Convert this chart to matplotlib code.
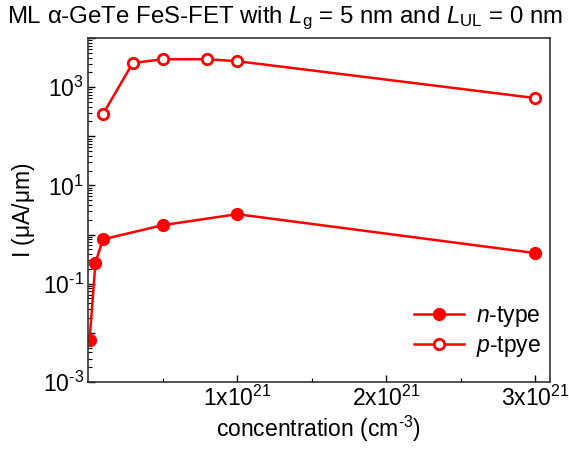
import numpy as np
import matplotlib
matplotlib.use("Agg")
import matplotlib.pyplot as plt
from matplotlib.ticker import LogLocator, FixedLocator, NullFormatter, FuncFormatter

# Dados
conc_n = [0.01e21, 0.05e21, 0.1e21, 0.5e21, 1.0e21, 3.0e21]
corr_n = [0.007, 0.27, 0.8, 1.55, 2.6, 0.42]

conc_p = [0.1e21, 0.3e21, 0.5e21, 0.8e21, 1.0e21, 3.0e21]
corr_p = [282, 3090, 3700, 3700, 3380, 600]

xticks = [1e21, 2e21, 3e21]
xtick_labels = [r'1x10$^{21}$', r'2x10$^{21}$', r'3x10$^{21}$']

plt.rcParams['font.family'] = 'Liberation Sans'
plt.rcParams['mathtext.fontset'] = 'custom'
plt.rcParams['mathtext.rm'] = 'Liberation Sans'
plt.rcParams['mathtext.it'] = 'Liberation Sans:italic'
plt.rcParams['mathtext.default'] = 'regular'

fs = 16.5

fig = plt.figure(figsize=(5.69, 4.58), dpi=100)
ax = fig.add_axes([0.1547, 0.166, 0.9666 - 0.1547, 0.917 - 0.166])

vermelho = '#ff0000'
ax.plot(conc_n, corr_n, '-o', color=vermelho, lw=1.8, ms=8.5,
        label=r'$\mathit{n}$-type')
ax.plot(conc_p, corr_p, '-o', color=vermelho, lw=1.8, ms=7.5,
        mfc='white', mew=2, label=r'$\mathit{p}$-tpye')

ax.set_yscale('log')
ax.set_xlim(0, 3.1e21)
ax.set_ylim(1e-3, 1e4)

ax.xaxis.set_major_locator(FixedLocator(xticks))
ax.set_xticklabels(xtick_labels)
ax.xaxis.set_minor_locator(FixedLocator(np.arange(0.5e21, 3.1e21, 1e21)))

ax.yaxis.set_major_locator(LogLocator(base=10, numticks=20))
ax.yaxis.set_minor_locator(LogLocator(base=10, subs=np.arange(2, 10), numticks=20))
ax.yaxis.set_minor_formatter(NullFormatter())

def fmt_y(v, pos):
    e = int(round(np.log10(v)))
    if e % 2 == 0:
        return ''
    return r'10$^{\text{%d}}$' % e

ax.yaxis.set_major_formatter(FuncFormatter(fmt_y))

ax.tick_params(which='both', direction='in', top=False, right=False, labelsize=fs, pad=3)
ax.tick_params(which='major', length=5, width=1)
ax.tick_params(which='minor', length=3, width=0.8)
for s in ax.spines.values():
    s.set_linewidth(1.2)
    s.set_color('#333333')

ax.set_xlabel(r'concentration (cm$^{\text{-3}}$)', fontsize=fs, labelpad=2)
ax.set_ylabel(r'I ($\mu$A/$\mu$m)', fontsize=fs, labelpad=4)
fig.text(0.5, 0.961,
         r'ML $\alpha$-GeTe FeS-FET with $\mathit{L}_{g}$ = 5 nm and $\mathit{L}_{UL}$ = 0 nm',
         fontsize=17.3, ha='center', va='center')

ax.legend(loc='lower right', bbox_to_anchor=(1.03, 0.0), frameon=False, fontsize=fs,
          handlelength=2.2, borderaxespad=0.6, handletextpad=0.5, labelspacing=0.2)

fig.savefig('out.png', dpi=100)
